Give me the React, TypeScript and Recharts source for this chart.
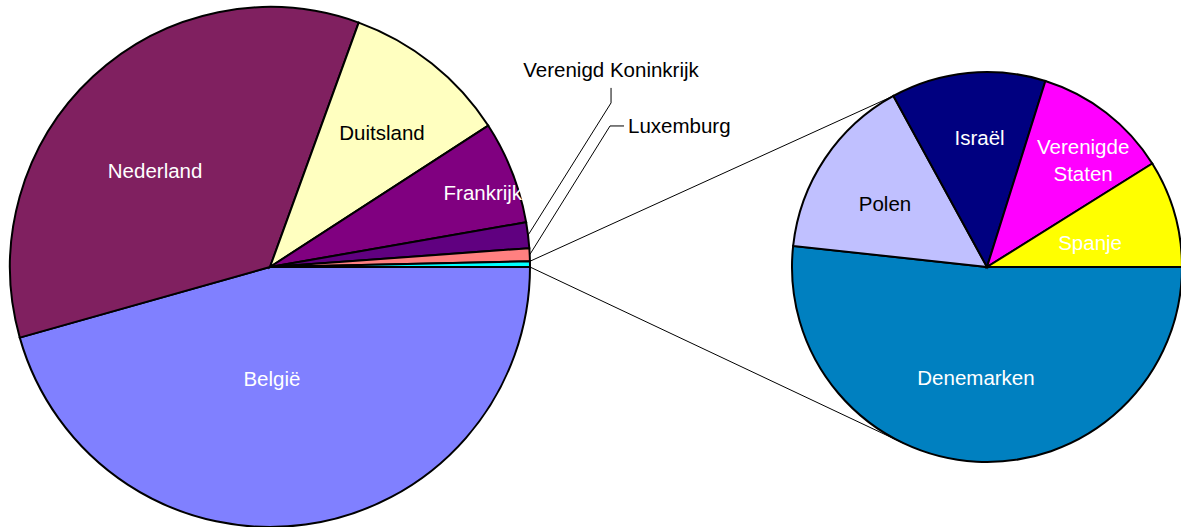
import { PieChart, Pie, Cell } from 'recharts';

// first pie, clockwise from 3 o'clock
const leftNames = ['België', 'Nederland', 'Duitsland', 'Frankrijk', 'Verenigd Koninkrijk', 'Luxemburg', 'Overig'];
const leftValues = [45.6, 34.9, 10.3, 6.4, 1.6, 0.8, 0.35];
const leftColors = ['#8080FF', '#802060', '#FFFFC0', '#800080', '#600080', '#FF8080', '#00FFFF'];

// second pie: breakdown of "Overig"
const rightNames = ['Denemarken', 'Polen', 'Israël', 'Verenigde Staten', 'Spanje'];
const rightValues = [51.7, 15.3, 12.8, 11.25, 8.9];
const rightColors = ['#0080C0', '#C0C0FF', '#000080', '#FF00FF', '#FFFF00'];

const leftData = leftNames.map((name, i) => ({ name, value: leftValues[i] }));
const rightData = rightNames.map((name, i) => ({ name, value: rightValues[i] }));

const LEFT = { cx: 270, cy: 267, r: 260 };
const RIGHT = { cx: 987, cy: 267, r: 195 };
const CONNECT_TOP = 241.4;
const FONT = '"Liberation Sans", Arial, sans-serif';
const FS = 20.5;

type Place = { r: number; da: number; fill: string; anchor?: 'start' | 'middle' };

// label spot as fraction of radius + angle nudge (degrees, clockwise) from the slice middle
const places: Record<string, Place> = {
  'België': { r: 0.43, da: 6.9, fill: '#fff' },
  Nederland: { r: 0.576, da: -7.2, fill: '#fff' },
  Duitsland: { r: 0.672, da: 1.4, fill: '#000' },
  Frankrijk: { r: 0.867, da: 2.2, fill: '#fff' },
  'Verenigd Koninkrijk': { r: 1.515, da: -23, fill: '#000' },
  Luxemburg: { r: 1.48, da: -18.8, fill: '#000', anchor: 'start' },
  Denemarken: { r: 0.567, da: 2.6, fill: '#fff' },
  Polen: { r: 0.615, da: -2.05, fill: '#000' },
  'Israël': { r: 0.664, da: 2.35, fill: '#fff' },
  'Verenigde Staten': { r: 0.74, da: 4.1, fill: '#fff' },
  Spanje: { r: 0.544, da: 2.4, fill: '#fff' },
};

const RAD = Math.PI / 180;
const at = (cx: number, cy: number, r: number, deg: number) => ({
  x: cx + r * Math.cos(deg * RAD),
  y: cy + r * Math.sin(deg * RAD),
});

// lower tangent point on the second pie seen from point (x, y)
function lowerTangent(x: number, y: number) {
  const dx = x - RIGHT.cx;
  const dy = y - RIGHT.cy;
  const d = Math.hypot(dx, dy);
  const base = Math.atan2(dy, dx) / RAD;
  const off = Math.acos(RIGHT.r / d) / RAD;
  const a1 = base - off;
  const a2 = base + off;
  const p1 = at(RIGHT.cx, RIGHT.cy, RIGHT.r, a1);
  const p2 = at(RIGHT.cx, RIGHT.cy, RIGHT.r, a2);
  return p1.y > p2.y ? p1 : p2;
}

function labelText(name: string, p: Place, x: number, y: number) {
  const words = name === 'Verenigde Staten' ? ['Verenigde', 'Staten'] : [name];
  return (
    <text
      x={x}
      y={y}
      fill={p.fill}
      fontFamily={FONT}
      fontSize={FS}
      textAnchor={p.anchor ?? 'middle'}
      dominantBaseline="central"
    >
      {words.length === 1
        ? name
        : words.map((w, i) => (
            <tspan key={w} x={x} dy={i === 0 ? -13.5 : 27}>
              {w}
            </tspan>
          ))}
    </text>
  );
}

function renderLeftLabel(props: any) {
  const { cx, cy, midAngle, outerRadius, startAngle, endAngle, index } = props;
  const name = leftNames[index];
  if (name === 'Overig') {
    const a = at(cx, cy, outerRadius, -startAngle);
    const b = at(cx, cy, outerRadius, -endAngle);
    const p = at(RIGHT.cx, RIGHT.cy, RIGHT.r, CONNECT_TOP);
    const q = lowerTangent(b.x, b.y);
    return (
      <g key="connectors">
        <line x1={a.x} y1={a.y} x2={p.x} y2={p.y} stroke="#000" strokeWidth={1} />
        <line x1={b.x} y1={b.y} x2={q.x} y2={q.y} stroke="#000" strokeWidth={1} />
      </g>
    );
  }
  const p = places[name];
  const mid = -midAngle;
  const pos = at(cx, cy, outerRadius * p.r, mid + p.da);
  if (name === 'Verenigd Koninkrijk') {
    const edge = at(cx, cy, outerRadius, mid);
    return (
      <g key={name}>
        <polyline
          points={`${edge.x},${edge.y} ${pos.x},${pos.y + 33} ${pos.x},${pos.y + 18}`}
          fill="none"
          stroke="#000"
          strokeWidth={1}
        />
        {labelText(name, p, pos.x, pos.y)}
      </g>
    );
  }
  if (name === 'Luxemburg') {
    const edge = at(cx, cy, outerRadius, mid);
    return (
      <g key={name}>
        <polyline
          points={`${edge.x},${edge.y} ${pos.x - 18},${pos.y} ${pos.x - 4},${pos.y}`}
          fill="none"
          stroke="#000"
          strokeWidth={1}
        />
        {labelText(name, p, pos.x, pos.y)}
      </g>
    );
  }
  return <g key={name}>{labelText(name, p, pos.x, pos.y)}</g>;
}

function renderRightLabel(props: any) {
  const { cx, cy, midAngle, outerRadius, index } = props;
  const name = rightNames[index];
  const p = places[name];
  const pos = at(cx, cy, outerRadius * p.r, -midAngle + p.da);
  return <g key={name}>{labelText(name, p, pos.x, pos.y)}</g>;
}

export default function App() {
  return (
    <div style={{ position: 'absolute', left: 0, top: 0, width: 1181, height: 527, background: '#fff' }}>
      <PieChart width={1181} height={527} margin={{ top: 0, right: 0, bottom: 0, left: 0 }}>
        <Pie
          data={leftData}
          dataKey="value"
          nameKey="name"
          cx={LEFT.cx}
          cy={LEFT.cy}
          outerRadius={LEFT.r}
          startAngle={0}
          endAngle={-360}
          stroke="#000"
          strokeWidth={2}
          labelLine={false}
          label={renderLeftLabel}
          isAnimationActive={false}
        >
          {leftData.map((d, i) => (
            <Cell key={d.name} fill={leftColors[i]} />
          ))}
        </Pie>
        <Pie
          data={rightData}
          dataKey="value"
          nameKey="name"
          cx={RIGHT.cx}
          cy={RIGHT.cy}
          outerRadius={RIGHT.r}
          startAngle={0}
          endAngle={-360}
          stroke="#000"
          strokeWidth={2}
          labelLine={false}
          label={renderRightLabel}
          isAnimationActive={false}
        >
          {rightData.map((d, i) => (
            <Cell key={d.name} fill={rightColors[i]} />
          ))}
        </Pie>
      </PieChart>
    </div>
  );
}
